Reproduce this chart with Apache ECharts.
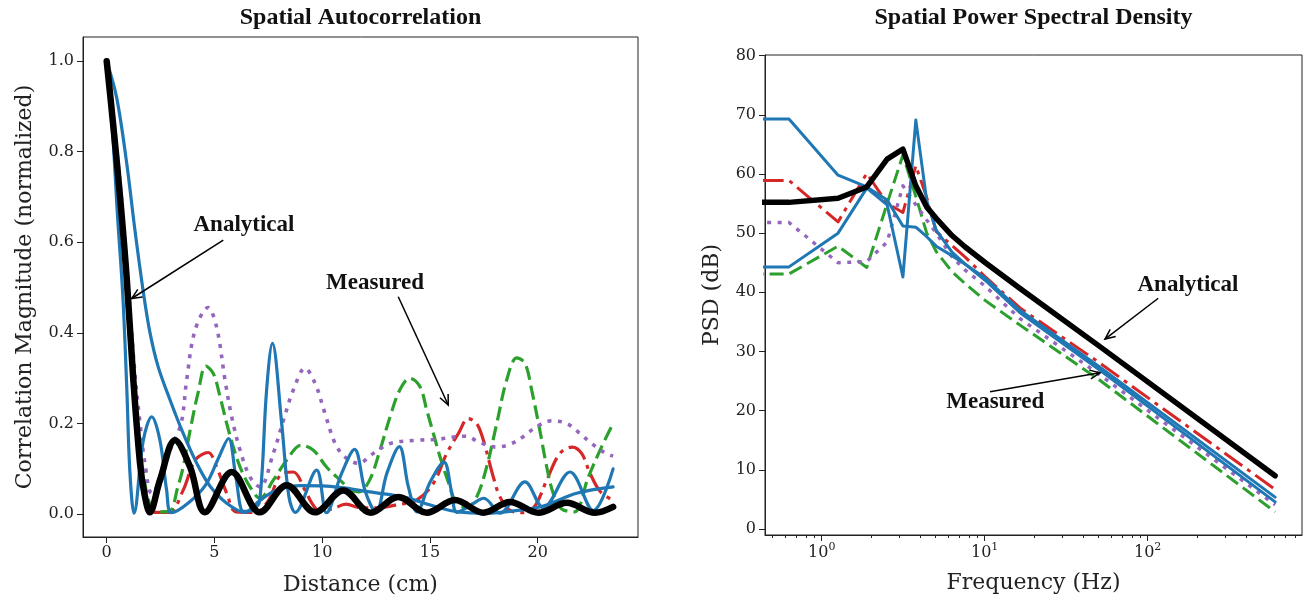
<!DOCTYPE html>
<html>
<head>
<meta charset="utf-8">
<script src="https://cdn.jsdelivr.net/npm/echarts@6/dist/echarts.min.js"></script>
<style>
  html, body { margin: 0; background: #fff; }
  #chart { width: 1304px; height: 601px; }
</style>
</head>
<body>
<div id="chart"></div>
<script>
  // ---- left panel: autocorrelation, [distance (cm), magnitude] ----
  const acfAnalytical = [[0,1.0],[0.3,0.86],[0.62,0.70],[0.93,0.52],[1.23,0.30],[1.55,0.11],[1.75,0.045],[2.0,0.004],[2.47,0.075],[3.17,0.163],[3.87,0.104],[4.56,0.004],[5.8,0.093],[7.11,0.004],[8.35,0.064],[9.67,0.004],[10.98,0.052],[12.25,0.003],[13.53,0.038],[14.85,0.003],[16.16,0.031],[17.48,0.003],[18.71,0.027],[20.03,0.003],[21.35,0.025],[22.66,0.003],[23.5,0.016]];
  const acfBlueBroad = [[0,1],[0.46,0.92],[0.93,0.774],[1.31,0.627],[1.70,0.49],[2.01,0.40],[2.39,0.325],[2.94,0.252],[3.55,0.178],[4.18,0.112],[4.79,0.062],[5.57,0.024],[6.4,0.004],[7.1,0.03],[7.9,0.053],[9.0,0.063],[10.2,0.062],[11.3,0.056],[12.2,0.049],[13.76,0.038],[15.3,0.016],[16.3,0.005],[17.6,0.002],[18.9,0.007],[20.26,0.018],[21.8,0.046],[23.5,0.06]];
  const acfBlueNarrow = [[0,1],[0.25,0.86],[0.5,0.66],[0.75,0.48],[0.93,0.28],[1.08,0.09],[1.27,0.002],[1.70,0.163],[2.09,0.215],[2.47,0.163],[2.78,0.053],[3.0,0.003],[3.8,0.025],[4.6,0.065],[5.2,0.125],[5.65,0.167],[6.0,0.08],[6.35,0.006],[6.8,0.01],[7.1,0.03],[7.42,0.274],[7.69,0.377],[8.12,0.2],[8.45,0.04],[8.75,0.004],[9.74,0.097],[10.2,0.003],[10.9,0.09],[11.5,0.143],[12.0,0.05],[12.5,0.004],[13.0,0.09],[13.58,0.149],[14.0,0.06],[14.4,0.005],[15.0,0.07],[15.65,0.115],[16.0,0.05],[16.25,0.004],[16.9,0.02],[17.5,0.035],[18.25,0.002],[19.41,0.071],[20.26,0.014],[21.5,0.093],[22.58,0.008],[23.5,0.10]];
  const acfPurple = [[0,1],[0.6,0.74],[1.0,0.5],[1.31,0.31],[1.55,0.2],[1.78,0.11],[2.09,0.046],[2.55,0.082],[2.94,0.141],[3.45,0.2],[3.71,0.296],[4.1,0.406],[4.7,0.456],[5.1,0.413],[5.49,0.296],[5.8,0.215],[6.19,0.141],[6.65,0.082],[7.11,0.06],[7.73,0.134],[8.2,0.207],[8.66,0.274],[9.2,0.322],[9.67,0.289],[10.13,0.222],[10.6,0.156],[11.06,0.126],[11.68,0.112],[12.37,0.134],[13.15,0.156],[14.4,0.163],[15.3,0.165],[16.63,0.172],[17.32,0.158],[18.05,0.148],[18.7,0.154],[19.33,0.171],[19.95,0.193],[20.65,0.206],[21.35,0.2],[21.96,0.178],[22.5,0.156],[23.1,0.136],[23.5,0.128]];
  const acfGreen = [[0,1],[0.6,0.72],[1.2,0.32],[1.8,0.06],[2.3,0.005],[2.9,0.006],[3.3,0.06],[3.55,0.104],[3.87,0.185],[4.25,0.27],[4.6,0.327],[4.95,0.31],[5.26,0.259],[5.57,0.2],[5.87,0.149],[6.19,0.104],[6.65,0.06],[7.11,0.035],[7.73,0.075],[8.35,0.119],[9.0,0.152],[9.59,0.141],[10.2,0.104],[10.83,0.075],[11.3,0.055],[11.7,0.049],[12.2,0.075],[12.68,0.141],[13.15,0.215],[13.6,0.274],[14.07,0.3],[14.54,0.281],[14.85,0.23],[15.16,0.178],[15.47,0.126],[15.85,0.071],[16.16,0.031],[16.7,0.014],[17.17,0.038],[17.63,0.104],[18.1,0.2],[18.56,0.296],[19.03,0.345],[19.41,0.333],[19.72,0.274],[20.1,0.185],[20.42,0.104],[20.72,0.046],[21.1,0.012],[21.7,0.005],[22.35,0.082],[22.97,0.149],[23.5,0.2]];
  const acfRed = [[0,1],[0.6,0.7],[1.2,0.3],[1.7,0.05],[2.2,0.004],[2.9,0.004],[3.55,0.053],[4.1,0.119],[4.71,0.136],[5.1,0.104],[5.57,0.046],[6.0,0.005],[6.9,0.004],[7.5,0.03],[8.1,0.088],[8.66,0.093],[9.2,0.053],[9.55,0.022],[9.9,0.006],[10.5,0.012],[11.1,0.022],[11.8,0.014],[12.6,0.014],[13.4,0.02],[14.38,0.031],[15.16,0.068],[15.78,0.134],[16.32,0.178],[16.78,0.211],[17.17,0.2],[17.48,0.163],[17.94,0.082],[18.25,0.038],[18.7,0.009],[19.4,0.003],[19.9,0.02],[20.42,0.075],[21.03,0.134],[21.6,0.148],[22.04,0.134],[22.43,0.09],[22.9,0.05],[23.5,0.03]];
  const acfXTicks = [0, 5, 10, 15, 20];
  const acfYTicks = [0, 0.2, 0.4, 0.6, 0.8, 1.0];

  // ---- right panel: PSD in dB; first freq stands in for the DC bin (clipped on log axis) ----
  const psdFreq = [0.05, 0.63, 1.26, 1.89, 2.52, 3.15, 3.78, 4.41, 5.04, 6.3, 7.56, 10.1, 16.4, 50, 605];
  const psdAnalytical = [55.2, 55.2, 55.9, 57.8, 62.5, 64.2, 58.0, 54.4, 52.5, 49.6, 47.7, 45.0, 40.7, 31.0, 9.0];
  const psdRed = [58.9, 58.9, 51.9, 60.1, 55.0, 53.5, 61.4, 56.0, 50.3, 47.9, 46.0, 42.6, 37.4, 28.2, 6.7];
  const psdBlueA = [69.3, 69.3, 59.8, 57.8, 55.6, 51.2, 51.0, 49.4, 47.8, 46.2, 44.8, 42.4, 37.0, 27.5, 5.4];
  const psdBlueB = [44.3, 44.3, 50.0, 57.6, 54.8, 42.6, 69.1, 55.5, 50.5, 46.8, 44.8, 42.0, 36.6, 27.0, 4.6];
  const psdGreen = [43.1, 43.1, 47.8, 44.2, 55.0, 63.2, 56.2, 50.0, 46.9, 43.5, 41.5, 38.6, 34.5, 25.3, 2.9];
  const psdPurple = [51.8, 51.8, 45.0, 45.2, 48.5, 58.0, 54.8, 52.2, 50.0, 46.0, 43.8, 41.0, 35.6, 26.2, 4.1];
  const psdYTicks = [0, 10, 20, 30, 40, 50, 60, 70, 80];
  const psdXTicks = [1, 10, 100];
  const psdMinorTicks = [0.5,0.6,0.7,0.8,0.9,2,3,4,5,6,7,8,9,20,30,40,50,60,70,80,90,200,300,400,500,600,700,800];

  const BLUE = '#1f77b4', RED = '#d62728', GREEN = '#2ca02c', PURPLE = '#9467bd';
  const DASH = [14, 6], DOT = [4, 6.5], DASHDOT = [22, 6, 4, 6];
  const SERIF = 'DejaVu Serif';
  const ANNO = 'Liberation Serif';

  const zip = (xs, ys) => xs.map((x, i) => [x, ys[i]]);

  function line(data, color, width, dash, grid, smooth, z) {
    return {
      type: 'line', xAxisIndex: grid === 0 ? 0 : 1, yAxisIndex: grid,
      data: data, symbol: 'none', smooth: smooth, silent: true, z: z,
      lineStyle: { color: color, width: width, type: dash || 'solid',
                   cap: dash ? 'butt' : 'round', join: 'round' }
    };
  }

  const axisLine = { show: true, onZero: false, lineStyle: { color: '#222', width: 1 } };
  const tickLabel = { fontFamily: SERIF, fontSize: 16, color: '#222' };
  const nameStyle = { fontFamily: SERIF, fontSize: 22, color: '#222' };

  const chart = echarts.init(document.getElementById('chart'));
  chart.setOption({
    animation: false,
    backgroundColor: '#fff',
    grid: [
      { left: 83, top: 37, width: 555, height: 500, show: true, borderColor: '#222', borderWidth: 1 },
      { left: 765, top: 55, width: 537, height: 480, show: true, borderColor: '#222', borderWidth: 1 }
    ],
    xAxis: [
      { type: 'value', gridIndex: 0, min: -1.10, max: 24.655, axisLine: axisLine,
        axisTick: { length: 6, customValues: acfXTicks, lineStyle: { color: '#222' } },
        axisLabel: Object.assign({ customValues: acfXTicks, margin: 8 }, tickLabel),
        splitLine: { show: false },
        name: 'Distance (cm)', nameLocation: 'middle', nameGap: 37, nameTextStyle: nameStyle },
      { type: 'log', gridIndex: 1, position: 'bottom', min: 0.4489, max: 884.6, axisLine: axisLine,
        axisTick: { length: 6, customValues: psdXTicks, lineStyle: { color: '#222' } },
        axisLabel: Object.assign({ customValues: psdXTicks, margin: 7, lineHeight: 22,
          formatter: v => '10{s|' + Math.round(Math.log10(v)) + '}',
          rich: { s: { fontFamily: SERIF, fontSize: 11, lineHeight: 13, verticalAlign: 'top', color: '#222' } } }, tickLabel),
        splitLine: { show: false }, minorSplitLine: { show: false },
        name: 'Frequency (Hz)', nameLocation: 'middle', nameGap: 37, nameTextStyle: nameStyle },
      { type: 'log', gridIndex: 1, position: 'bottom', min: 0.4489, max: 884.6,
        axisLine: { show: false, onZero: false },
        axisTick: { length: 3, customValues: psdMinorTicks, lineStyle: { color: '#222' } },
        axisLabel: { show: false }, splitLine: { show: false } }
    ],
    yAxis: [
      { type: 'value', gridIndex: 0, min: -0.0505, max: 1.0533, axisLine: axisLine,
        axisTick: { length: 6, customValues: acfYTicks, lineStyle: { color: '#222' } },
        axisLabel: Object.assign({ customValues: acfYTicks, margin: 9, formatter: v => v.toFixed(1) }, tickLabel),
        splitLine: { show: false },
        name: 'Correlation Magnitude (normalized)', nameLocation: 'middle', nameGap: 47, nameTextStyle: nameStyle },
      { type: 'value', gridIndex: 1, min: -1.0, max: 80.1, axisLine: axisLine,
        axisTick: { length: 6, customValues: psdYTicks, lineStyle: { color: '#222' } },
        axisLabel: Object.assign({ customValues: psdYTicks, margin: 9 }, tickLabel),
        splitLine: { show: false },
        name: 'PSD (dB)', nameLocation: 'middle', nameGap: 42, nameTextStyle: nameStyle }
    ],
    series: [
      line(acfRed, RED, 3.2, DASHDOT, 0, 0.35, 2),
      line(acfGreen, GREEN, 3.2, DASH, 0, 0.35, 2),
      line(acfPurple, PURPLE, 3.6, DOT, 0, 0.35, 2),
      line(acfBlueBroad, BLUE, 3.2, null, 0, 0.35, 3),
      line(acfBlueNarrow, BLUE, 3.2, null, 0, 0.35, 3),
      line(acfAnalytical, '#000', 6.5, null, 0, 0.35, 5),

      line(zip(psdFreq, psdRed), RED, 3, DASHDOT, 1, false, 2),
      line(zip(psdFreq, psdGreen), GREEN, 3, DASH, 1, false, 2),
      line(zip(psdFreq, psdPurple), PURPLE, 3.4, DOT, 1, false, 2),
      line(zip(psdFreq, psdBlueA), BLUE, 3, null, 1, false, 3),
      line(zip(psdFreq, psdBlueB), BLUE, 3, null, 1, false, 3),
      line(zip(psdFreq, psdAnalytical), '#000', 5.5, null, 1, false, 5)
    ]
  });

  // titles and arrow annotations, placed in data coordinates
  const annotations = [
    { axes: { xAxisIndex: 0, yAxisIndex: 0 }, text: 'Analytical', at: [6.37, 0.638], tail: [5.41, 0.605], tip: [1.16, 0.476] },
    { axes: { xAxisIndex: 0, yAxisIndex: 0 }, text: 'Measured', at: [12.45, 0.51], tail: [13.53, 0.48], tip: [15.85, 0.241] },
    { axes: { xAxisIndex: 1, yAxisIndex: 1 }, text: 'Analytical', at: [176.6, 41.2], tail: [116.1, 39.0], tip: [54.7, 32.1] },
    { axes: { xAxisIndex: 1, yAxisIndex: 1 }, text: 'Measured', at: [11.6, 21.5], tail: [10.78, 23.2], tip: [51.0, 26.4] }
  ];

  const elements = [
    { type: 'text', x: 360.5, y: 18, style: { text: 'Spatial Autocorrelation', font: 'bold 24px "' + ANNO + '"', fill: '#111', textAlign: 'center', textVerticalAlign: 'middle' } },
    { type: 'text', x: 1033.5, y: 18, style: { text: 'Spatial Power Spectral Density', font: 'bold 24px "' + ANNO + '"', fill: '#111', textAlign: 'center', textVerticalAlign: 'middle' } }
  ];
  annotations.forEach(a => {
    const p = chart.convertToPixel(a.axes, a.at);
    const t0 = chart.convertToPixel(a.axes, a.tail);
    const t1 = chart.convertToPixel(a.axes, a.tip);
    const dx = t1[0] - t0[0], dy = t1[1] - t0[1];
    const len = Math.hypot(dx, dy), ux = dx / len, uy = dy / len;
    const hl = 11, ang = 0.42;
    const arm = s => [t1[0] - hl * (ux * Math.cos(ang) - s * uy * Math.sin(ang)),
                      t1[1] - hl * (uy * Math.cos(ang) + s * ux * Math.sin(ang))];
    elements.push(
      { type: 'text', x: p[0], y: p[1], z: 10, style: { text: a.text, font: 'bold 23px "' + ANNO + '"', fill: '#111', textAlign: 'center', textVerticalAlign: 'middle' } },
      { type: 'line', z: 10, shape: { x1: t0[0], y1: t0[1], x2: t1[0], y2: t1[1] }, style: { stroke: '#000', lineWidth: 1.5 } },
      { type: 'polyline', z: 10, shape: { points: [arm(1), t1, arm(-1)] }, style: { stroke: '#000', lineWidth: 1.5, fill: null } }
    );
  });
  chart.setOption({ graphic: elements });
</script>
</body>
</html>
